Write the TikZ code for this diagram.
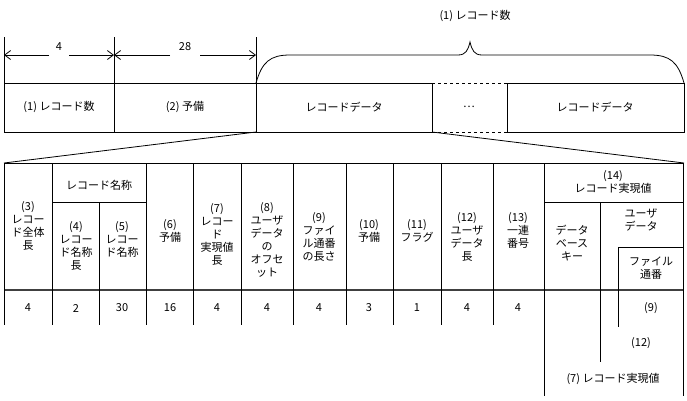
\documentclass[tikz,border=0pt]{standalone}
\usepackage{fontspec}
\setmainfont{Noto Sans CJK JP}
\usetikzlibrary{arrows.meta}
\begin{document}
\begin{tikzpicture}[x=1pt,y=-1pt,line width=0.8pt,
  lbl/.style={font=\fontsize{11}{13}\selectfont,align=center,inner sep=0pt},
  dimarrow/.style={->,>={Straight Barb[length=6pt,width=9pt]}}]
\useasboundingbox (0,0) rectangle (687,400);
% top row
\draw (4,83) rectangle (432,132);
\draw (507,83) rectangle (684,132);
\draw (114,83) -- (114,132);
\draw (256,83) -- (256,132);
\draw[dashed] (432,83) -- (507,83) (432,132) -- (507,132);
\node[lbl] (t1) at (59,107) {(1)\ レコード数};
\node[lbl] (t2) at (185,107) {(2)\ 予備};
\node[lbl] (t3) at (344,107) {レコードデータ};
\node[lbl] (t4) at (469,107) {…};
\node[lbl] (t5) at (595,107) {レコードデータ};
% dimensions
\draw (4,37) -- (4,83) (114,37) -- (114,83) (256,37) -- (256,83);
\node[lbl] (d1) at (59,47) {4};
\node[lbl] (d2) at (185,47) {28};
\coordinate (a0) at (4,55); \coordinate (a1) at (114,55); \coordinate (a2) at (256,55);
\coordinate (b1) at (49,55); \coordinate (b2) at (69,55);
\coordinate (b3) at (170,55); \coordinate (b4) at (200,55);
\draw[dimarrow] (b1) -- (a0);
\draw[dimarrow] (b2) -- (a1);
\draw[dimarrow] (b3) -- (a1);
\draw[dimarrow] (b4) -- (a2);
% brace
\draw (256,83) .. controls (262,62) and (270,55) .. (290,55) -- (458,55)
  .. controls (466,55) and (468,50) .. (470,42)
  .. controls (472,50) and (474,55) .. (482,55) -- (650,55)
  .. controls (670,55) and (678,62) .. (684,83);
\node[lbl] (br) at (475,16) {(1)\ レコード数};
% fan lines
\draw (256,132) -- (4,163);
\draw (432,132) -- (684,163);
% bottom table
\draw (4,163) -- (683,163);
\draw[line width=1.2pt,black!75] (4,290) -- (683,290);
\foreach \x in {4,52,146,193,241,293,346,393,441,493} \draw (\x,163) -- (\x,325);
\draw (99,202) -- (99,325);
\draw (52,202) -- (146,202);
\draw (544,163) -- (544,396);
\draw (683,163) -- (683,396);
\draw (544,202) -- (683,202);
\draw (600,202) -- (600,362);
\draw (618,247) -- (618,327);
\draw (618,247) -- (683,247);
% header labels
\node[lbl] (c3) at (28,226) {(3)\\レコー\\ド全体\\長};
\node[lbl] (c45) at (99,185) {レコード名称};
\node[lbl] (c4) at (76,246) {(4)\\レコー\\ド名称\\長};
\node[lbl] (c5) at (122,239) {(5)\\レコー\\ド名称};
\node[lbl] (c6) at (170,231) {(6)\\予備};
\node[lbl] (c7) at (217,234) {(7)\\レコー\\ド\\実現値\\長};
\node[lbl] (c8) at (267,240) {(8)\\ユーザ\\データ\\の\\オフセ\\ット};
\node[lbl] (c9) at (319,237) {(9)\\ファイ\\ル通番\\の長さ};
\node[lbl] (c10) at (369,231) {(10)\\予備};
\node[lbl] (c11) at (417,231) {(11)\\フラグ};
\node[lbl] (c12) at (467,237) {(12)\\ユーザ\\データ\\長};
\node[lbl] (c13) at (518,230) {(13)\\一連\\番号};
\node[lbl] (c14) at (613,182) {(14)\\レコード実現値};
\node[lbl] (cdb) at (572,243) {データ\\ベース\\キー};
\node[lbl] (cud) at (641,220) {ユーザ\\データ};
\node[lbl] (cfn) at (651,268) {ファイル\\通番};
% sizes
\foreach \x/\v [count=\i] in {28/4,76/2,122/30,170/16,217/4,267/4,319/4,369/3,417/1,467/4,518/4}
  \node[lbl] (s\i) at (\x,308) {\v};
\node[lbl] (s12) at (651,308) {(9)};
\node[lbl] (s13) at (641,343) {(12)};
\node[lbl] (s14) at (613,379) {(7)\ レコード実現値};
\end{tikzpicture}
\end{document}
